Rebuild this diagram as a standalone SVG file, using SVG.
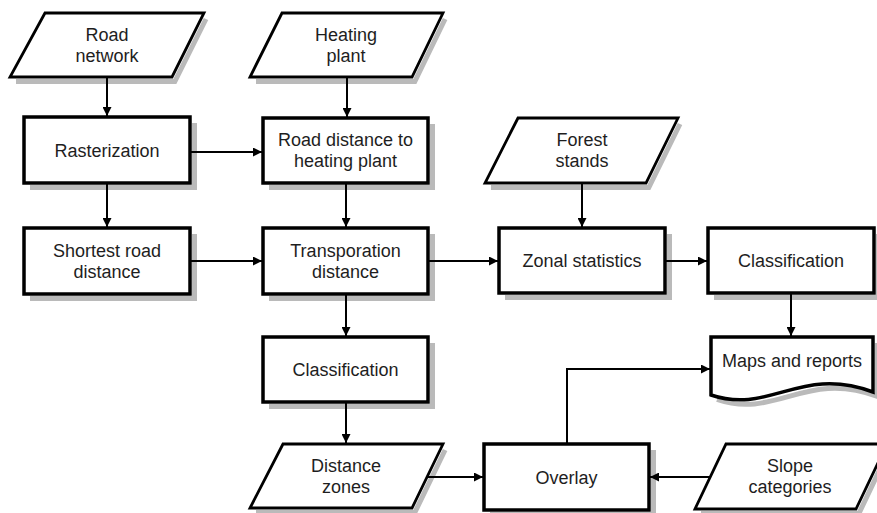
<svg xmlns="http://www.w3.org/2000/svg" width="877" height="513" viewBox="0 0 877 513">
  <style>
    text { font-family: "Liberation Sans", Arial, sans-serif; font-size: 18px; fill: #1e1e1e; text-anchor: middle; }
    .box { fill: #fff; stroke: #000; stroke-width: 3.5; }
    .data { fill: #fff; stroke: #000; stroke-width: 2.8; stroke-linejoin: miter; }
    .edge { fill: none; stroke: #000; stroke-width: 2; marker-end: url(#arrow); }
    .shade { fill: none; stroke: #bababa; stroke-width: 5; stroke-linejoin: miter; }
  </style>
  <defs>
    <marker id="arrow" viewBox="0 0 10 10" refX="10" refY="5" markerWidth="11" markerHeight="9" markerUnits="userSpaceOnUse" orient="auto">
      <path d="M0,0 L10,5 L0,10 z" fill="#000"/>
    </marker>
  </defs>

  <rect width="877" height="513" fill="#fff"/>

  <!-- input data -->
  <g id="road-network">
    <polyline class="shade" points="16,81.5 174.8,81.5 206,19"/>
    <polygon class="data" points="45,13 204,13 172,77 10,77"/>
    <text x="107" y="41">Road</text>
    <text x="107" y="62">network</text>
  </g>
  <g id="heating-plant">
    <polyline class="shade" points="256,81.5 414.8,81.5 445.1,19"/>
    <polygon class="data" points="282,13 443,13 412,77 250,77"/>
    <text x="346" y="41">Heating</text>
    <text x="346" y="62">plant</text>
  </g>
  <g id="forest-stands">
    <polyline class="shade" points="491,187.5 648.8,187.5 680,124"/>
    <polygon class="data" points="518,118 678,118 646,183 485,183"/>
    <text x="582" y="146">Forest</text>
    <text x="582" y="167">stands</text>
  </g>
  <g id="distance-zones">
    <polyline class="shade" points="256,512.5 414.8,512.5 445.1,450"/>
    <polygon class="data" points="283,444 443,444 412,508 250,508"/>
    <text x="346" y="472">Distance</text>
    <text x="346" y="493">zones</text>
  </g>
  <g id="slope-categories">
    <polyline class="shade" points="701,513.5 858.9,513.5 889,450"/>
    <polygon class="data" points="726,444 887,444 856,509 695,509"/>
    <text x="790" y="472">Slope</text>
    <text x="790" y="493">categories</text>
  </g>

  <!-- processes -->
  <g id="rasterization">
    <path class="shade" d="M30,187.5 H194.5 V123"/>
    <rect class="box" x="24" y="117" width="166" height="66"/>
    <text x="107" y="157">Rasterization</text>
  </g>
  <g id="road-distance">
    <path class="shade" d="M269,187.5 H432.5 V124"/>
    <rect class="box" x="263" y="118" width="165" height="65"/>
    <text x="345.5" y="146">Road distance to</text>
    <text x="345.5" y="167">heating plant</text>
  </g>
  <g id="shortest-road">
    <path class="shade" d="M30,298.5 H194.5 V234"/>
    <rect class="box" x="24" y="228" width="166" height="66"/>
    <text x="107" y="257">Shortest road</text>
    <text x="107" y="278">distance</text>
  </g>
  <g id="transportation">
    <path class="shade" d="M269,298.5 H432.5 V234"/>
    <rect class="box" x="263" y="228" width="165" height="66"/>
    <text x="345.5" y="257">Transporation</text>
    <text x="345.5" y="278">distance</text>
  </g>
  <g id="zonal-statistics">
    <path class="shade" d="M505,297.5 H669.5 V234"/>
    <rect class="box" x="499" y="228" width="166" height="65"/>
    <text x="582" y="267">Zonal statistics</text>
  </g>
  <g id="classification-right">
    <path class="shade" d="M714,297.5 H878.5 V234"/>
    <rect class="box" x="708" y="228" width="166" height="65"/>
    <text x="791" y="267">Classification</text>
  </g>
  <g id="classification-mid">
    <path class="shade" d="M269,406.5 H432.5 V343"/>
    <rect class="box" x="263" y="337" width="165" height="65"/>
    <text x="345.5" y="376">Classification</text>
  </g>
  <g id="overlay">
    <path class="shade" d="M490,514.5 H653.5 V450"/>
    <rect class="box" x="484" y="444" width="165" height="66"/>
    <text x="566.5" y="484">Overlay</text>
  </g>

  <!-- output document -->
  <g id="maps-reports">
    <path class="shade" d="M717,399.5 C776,419.5 806,369.5 877.5,396.5 V343"/>
    <path class="box" d="M711,337 H873 V392 C800,365 770,415 711,395 Z" stroke-width="3"/>
    <text x="792" y="367">Maps and reports</text>
  </g>

  <!-- connectors, drawn over the drop shadows -->
  <g id="connectors">
    <line class="edge" x1="107" y1="78" x2="107" y2="116"/>
    <line class="edge" x1="347" y1="78" x2="347" y2="117"/>
    <line class="edge" x1="191" y1="152" x2="262" y2="152"/>
    <line class="edge" x1="107" y1="184" x2="107" y2="227"/>
    <line class="edge" x1="346" y1="184" x2="346" y2="227"/>
    <line class="edge" x1="191" y1="261" x2="262" y2="261"/>
    <line class="edge" x1="429" y1="261" x2="498" y2="261"/>
    <line class="edge" x1="582" y1="184" x2="582" y2="227"/>
    <line class="edge" x1="666" y1="261" x2="707" y2="261"/>
    <line class="edge" x1="791" y1="294" x2="791" y2="336"/>
    <line class="edge" x1="346" y1="295" x2="346" y2="336"/>
    <line class="edge" x1="346" y1="403" x2="346" y2="443"/>
    <line class="edge" x1="427" y1="477" x2="483" y2="477"/>
    <line class="edge" x1="711" y1="477" x2="650" y2="477"/>
    <polyline class="edge" points="567,443 567,369 710,369"/>
  </g>
</svg>
